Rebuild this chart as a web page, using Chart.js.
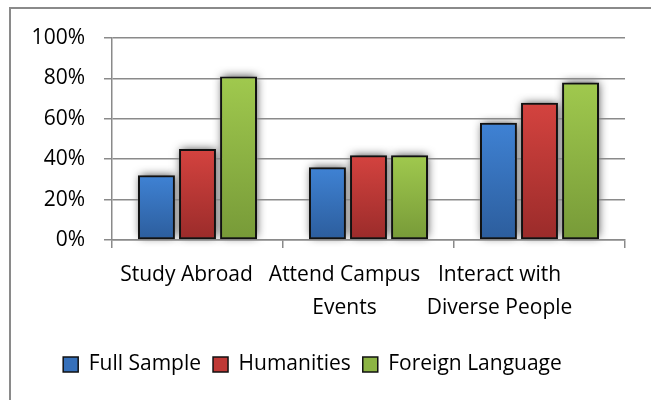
<!DOCTYPE html>
<html>
<head>
<meta charset="utf-8">
<script src="https://cdn.jsdelivr.net/npm/chart.js@4.4.1/dist/chart.umd.min.js"></script>
<style>
  html, body { margin: 0; padding: 0; background: #fff; }
  .frame { position: absolute; left: 9px; top: 7px; width: 700px; height: 460px; border: 2px solid #8a8a8a; }
  .wrap { position: absolute; left: 0; top: 0; width: 651px; height: 400px; }
</style>
</head>
<body>
<div class="frame"></div>
<div class="wrap"><canvas id="chart" width="651" height="400"></canvas></div>
<script>
// data
const categories = [['Study Abroad'], ['Attend Campus', 'Events'], ['Interact with', 'Diverse People']];
const seriesNames = ['Full Sample', 'Humanities', 'Foreign Language'];
const fullSample = [32, 36, 58];
const humanities = [45, 42, 68];
const foreignLanguage = [81, 42, 78];
const yTicks = [0, 20, 40, 60, 80, 100];

// colours (top / bottom of gradient)
const palette = [
  { top: '#3f82d4', bottom: '#2c5d9c', mid: '#3670ba' },
  { top: '#d4433f', bottom: '#9a2b2a', mid: '#bf3936' },
  { top: '#a0c94e', bottom: '#779a38', mid: '#8cb444' }
];

const FONT = '"Open Sans", "Noto Sans", sans-serif';
const FONT_SIZE = 21;

function barFill(i) {
  return function(ctx) {
    const chart = ctx.chart;
    const area = chart.chartArea;
    if (!area || ctx.raw == null) return palette[i].mid;
    const y = chart.scales.y.getPixelForValue(ctx.raw);
    const g = chart.ctx.createLinearGradient(0, y, 0, area.bottom);
    g.addColorStop(0, palette[i].top);
    g.addColorStop(1, palette[i].bottom);
    return g;
  };
}

// soft shadow behind bars
const barShadow = {
  id: 'barShadow',
  afterDatasetsDraw(chart) {
    const c = chart.ctx;
    c.save();
    // paint the shadow only, behind what is already drawn
    c.globalCompositeOperation = 'destination-over';
    c.shadowColor = 'rgba(0,0,0,0.75)';
    c.shadowBlur = 9;
    c.shadowOffsetX = 1;
    c.shadowOffsetY = -1;
    c.fillStyle = '#444';
    chart.data.datasets.forEach((d, i) => {
      chart.getDatasetMeta(i).data.forEach(bar => {
        const p = bar.getProps(['x', 'y', 'base', 'width'], true);
        c.fillRect(p.x - p.width / 2 + 1, p.y + 1, p.width - 2, p.base - p.y - 2);
      });
    });
    c.restore();
  }
};

// category labels, wrapped and nudged left like the original
const labelShift = [11, 24, 40];
const xLabels = {
  id: 'xLabels',
  afterDraw(chart) {
    const c = chart.ctx;
    const x = chart.scales.x;
    c.save();
    c.font = FONT_SIZE + 'px ' + FONT;
    c.fillStyle = '#000';
    c.textAlign = 'center';
    c.textBaseline = 'middle';
    categories.forEach((lines, i) => {
      const cx = x.getPixelForValue(i) - labelShift[i];
      lines.forEach((t, j) => c.fillText(t, cx, x.top + 35 + j * 33));
    });
    c.restore();
  }
};

const datasets = [fullSample, humanities, foreignLanguage].map((vals, i) => ({
  label: seriesNames[i],
  data: vals,
  backgroundColor: barFill(i),
  borderColor: '#111',
  borderWidth: 2,
  borderSkipped: false,
  categoryPercentage: 0.72,
  barPercentage: 0.9
}));

new Chart(document.getElementById('chart'), {
  type: 'bar',
  data: { labels: categories.map(l => l.join(' ')), datasets },
  plugins: [barShadow, xLabels],
  options: {
    responsive: false,
    animation: false,
    layout: { padding: { left: 0, right: 26, top: 38, bottom: 15 } },
    plugins: {
      tooltip: { enabled: false },
      legend: {
        position: 'bottom',
        labels: {
          color: '#000',
          font: { family: FONT, size: FONT_SIZE },
          boxWidth: 15,
          boxHeight: 15,
          padding: 12,
          generateLabels(chart) {
            return chart.data.datasets.map((d, i) => ({
              text: d.label,
              fillStyle: palette[i].mid,
              strokeStyle: '#111',
              lineWidth: 1.5,
              datasetIndex: i,
              fontColor: '#000'
            }));
          }
        }
      }
    },
    scales: {
      x: {
        offset: true,
        afterFit(s) { s.height = 102; },
        grid: { offset: true, drawOnChartArea: false, drawTicks: true, tickLength: 8, color: '#8a8a8a', lineWidth: 1.5 },
        border: { color: '#8a8a8a', width: 1.5 },
        ticks: { display: false }
      },
      y: {
        min: 0,
        max: 100,
        afterFit(s) { s.width = 112; },
        afterBuildTicks(s) { s.ticks = yTicks.map(v => ({ value: v })); },
        grid: { color: '#8a8a8a', lineWidth: 1.5, tickLength: 8 },
        border: { color: '#8a8a8a', width: 1.5 },
        ticks: {
          color: '#000',
          padding: 19,
          font: { family: FONT, size: FONT_SIZE },
          callback: v => v + '%'
        }
      }
    }
  }
});
</script>
</body>
</html>
